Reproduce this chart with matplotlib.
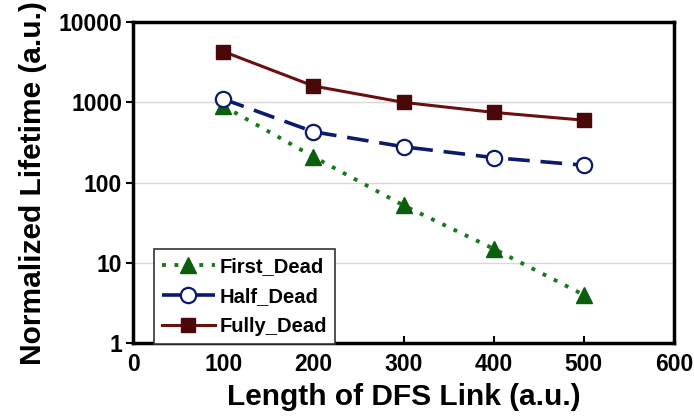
import matplotlib
matplotlib.use("Agg")
import matplotlib.pyplot as plt

plt.rcParams["font.family"] = ["Liberation Sans", "DejaVu Sans"]
plt.rcParams["font.weight"] = "bold"

# Data
link_length = [100, 200, 300, 400, 500]
first_dead = [900, 210, 52, 15, 4]
half_dead = [1100, 430, 280, 205, 165]
fully_dead = [4300, 1600, 1000, 750, 600]

x_ticks = [0, 100, 200, 300, 400, 500, 600]
y_ticks = [1, 10, 100, 1000, 10000]

fig = plt.figure(figsize=(6.94, 4.17), dpi=100)
ax = fig.add_axes([0.192, 0.177, 0.779, 0.77])

ax.plot(link_length, first_dead, color="#1a7a1a", linestyle=(0, (1, 2.2)), linewidth=2.8,
        marker="^", markersize=12, markerfacecolor="#0b5e0b", markeredgecolor="#0b5e0b",
        label="First_Dead")
ax.plot(link_length, half_dead, color="#0a1a6e", linestyle=(0, (6, 3)), linewidth=2.6,
        marker="o", markersize=11, markerfacecolor="white", markeredgecolor="#0a1a6e",
        markeredgewidth=1.6, label="Half_Dead")
ax.plot(link_length, fully_dead, color="#6b0f0f", linestyle="-", linewidth=2.2,
        marker="s", markersize=10.5, markerfacecolor="#4a0808", markeredgecolor="#4a0808",
        label="Fully_Dead")

ax.set_yscale("log")
ax.set_xlim(0, 600)
ax.set_ylim(1, 10000)
ax.set_xticks(x_ticks)
ax.set_yticks(y_ticks)
ax.set_yticklabels([str(v) for v in y_ticks])
ax.minorticks_off()
ax.tick_params(axis="both", labelsize=16.5, width=1.5, length=5)
ax.tick_params(axis="x", direction="in", pad=7)
ax.tick_params(axis="y", direction="out", pad=3)
ax.grid(True, axis="y", color="#d8d8d8", linewidth=1)
ax.set_axisbelow(True)
for spine in ax.spines.values():
    spine.set_linewidth(2.5)

ax.set_xlabel("Length of DFS Link (a.u.)", fontsize=21.5, fontweight="bold", labelpad=5)
ax.set_ylabel("Normalized Lifetime (a.u.)", fontsize=21.5, fontweight="bold", labelpad=8)

leg = ax.legend(loc="lower left", bbox_to_anchor=(0.02, -0.035), fontsize=14.5,
                fancybox=False, framealpha=1, edgecolor="#333333",
                handlelength=2.6, handletextpad=0.25, labelspacing=0.55, borderpad=0.4)
leg.get_frame().set_linewidth(1.2)

fig.savefig("out.png", dpi=100)
